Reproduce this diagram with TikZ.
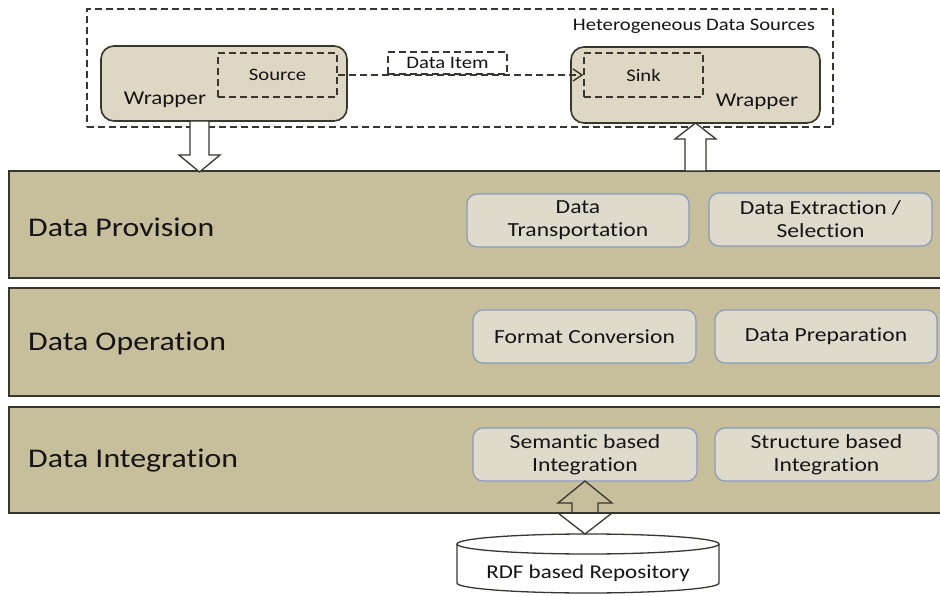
\documentclass[tikz,border=0pt]{standalone}
\usepackage{fontspec}
\setmainfont{Carlito}[FakeStretch=1.18, Ligatures={NoCommon,NoContextual}]
\usetikzlibrary{arrows.meta}
\definecolor{bandfill}{RGB}{199,191,156}
\definecolor{wrapfill}{RGB}{221,215,196}
\definecolor{innerfill}{RGB}{223,219,204}
\definecolor{innerborder}{RGB}{135,155,188}
\definecolor{darkline}{RGB}{55,55,48}
\definecolor{txt}{RGB}{20,20,20}
\tikzset{
  dsh/.style={dash pattern=on 7pt off 4pt, line width=1.4pt, draw=darkline},
  wrapbox/.style={draw=darkline, line width=1.6pt, fill=wrapfill, rounded corners=13pt, inner sep=0pt},
  dbox/.style={dsh, inner sep=0pt, font=\fontsize{17.5}{20}\selectfont, text=txt},
  band/.style={draw=darkline, line width=1.6pt, fill=bandfill, inner sep=0pt},
  bandlabel/.style={anchor=west, font=\fontsize{27}{31}\selectfont, text=txt, inner sep=0pt},
  innerbox/.style={draw=innerborder, line width=1.2pt, fill=innerfill, rounded corners=10pt, inner sep=0pt, align=center, font=\fontsize{20}{23}\selectfont, text=txt},
  plain/.style={inner sep=0pt, text=txt},
  blockarrow/.style={draw=darkline, line width=1.3pt, line join=miter}
}
\begin{document}
\begin{tikzpicture}[x=1pt, y=-1pt]
\useasboundingbox (0,0) rectangle (940,596);
\clip (0,0) rectangle (940,596);
% outer dashed region
\node[dsh, minimum width=746pt, minimum height=118pt, inner sep=0pt] (hds) at (460,68) {};
\node[plain, font=\fontsize{17.5}{20}\selectfont] (hdst) at (694,26) {Heterogeneous Data Sources};
% wrappers
\node[wrapbox, minimum width=246pt, minimum height=75pt] (lw) at (224,83.5) {};
\node[wrapbox, minimum width=249pt, minimum height=76pt] (rw) at (695.5,85) {};
\node[dbox, minimum width=119pt, minimum height=44pt] (src) at (277.5,75) {Source};
\node[dbox, minimum width=119pt, minimum height=44pt] (sink) at (643.5,75) {Sink};
\node[plain, font=\fontsize{19.5}{22}\selectfont] (lwt) at (165,100) {Wrapper};
\node[plain, font=\fontsize{19.5}{22}\selectfont] (rwt) at (757,102) {Wrapper};
% data item
\node[dbox, minimum width=119pt, minimum height=22pt] (item) at (447.5,63) {Data Item};
\draw[dsh, -{Straight Barb[length=9pt, width=12pt]}] (src.east) -- (sink.west);
% bands
\node[band, minimum width=936pt, minimum height=107pt] (b1) at (477,224.5) {};
\node[band, minimum width=936pt, minimum height=108pt] (b2) at (477,342) {};
\node[band, minimum width=936pt, minimum height=106pt] (b3) at (477,460) {};
\node[bandlabel] (l1) at (28,227) {Data Provision};
\node[bandlabel] (l2) at (28,343) {Data Operation};
\node[bandlabel] (l3) at (28,461) {Data Integration};
% inner boxes
\node[innerbox, minimum width=222pt, minimum height=53pt] (dt) at (578,220.5) {Data\\Transportation};
\node[innerbox, minimum width=223pt, minimum height=53pt] (des) at (820.5,219.5) {Data Extraction /\\Selection};
\node[innerbox, minimum width=223pt, minimum height=53pt] (fc) at (584.5,336.5) {Format Conversion};
\node[innerbox, minimum width=222pt, minimum height=53pt] (dp) at (826,336.5) {Data Preparation};
\node[innerbox, minimum width=224pt, minimum height=53pt] (si) at (585,454.5) {Semantic based\\Integration};
\node[innerbox, minimum width=223pt, minimum height=53pt] (sti) at (826.5,454.5) {Structure based\\Integration};
% block arrows
\draw[blockarrow, fill=white] (190,121) -- (209,121) -- (209,155) -- (220,155) -- (199.5,172) -- (179,155) -- (190,155) -- cycle;
\draw[blockarrow, fill=white] (685,171) -- (706,171) -- (706,139) -- (716,139) -- (695.5,123) -- (675,139) -- (685,139) -- cycle;
% repository
\draw[line width=1.3pt, draw=darkline, fill=white] (457,544) -- (457,583) arc[start angle=180, end angle=360, x radius=131pt, y radius=10pt] -- (719,544);
\draw[line width=1.3pt, draw=darkline, fill=white] (588,544) ellipse[x radius=131pt, y radius=10pt];
\node[plain, font=\fontsize{19.5}{22}\selectfont] (repo) at (588,573) {RDF based Repository};
\draw[blockarrow] (585,481) -- (612,503) -- (598,503) -- (598,513) -- (612,513) -- (585,534) -- (558,513) -- (572,513) -- (572,503) -- (558,503) -- cycle;
\end{tikzpicture}
\end{document}
